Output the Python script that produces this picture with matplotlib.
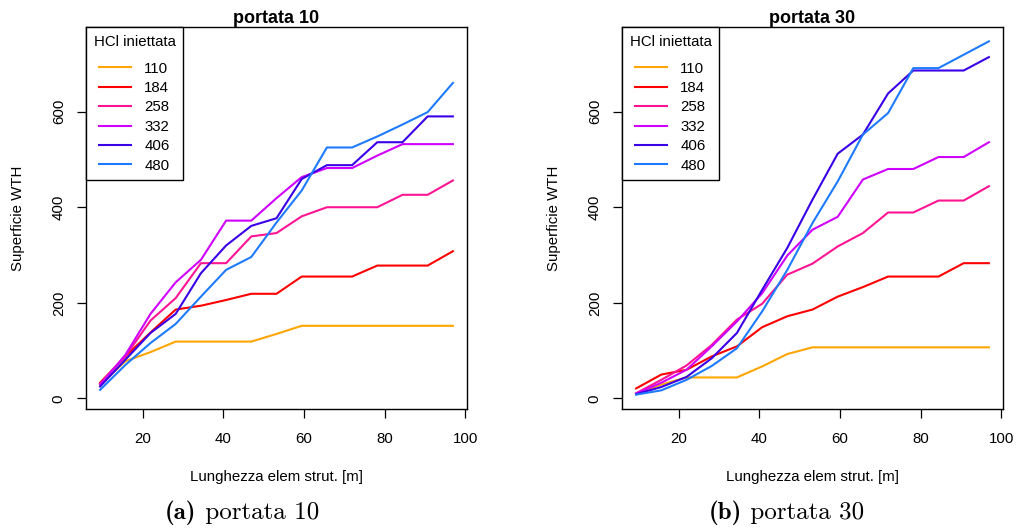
import numpy as np
import matplotlib
matplotlib.use('Agg')
import matplotlib.pyplot as plt

# lunghezza elem strut. [m], same 15 points for both panels
lunghezza = [9.4 + 6.25 * i for i in range(15)]

hcl_labels = ['110', '184', '258', '332', '406', '480']
colors = ['#FFA500', '#FF0000', '#FF1493', '#D000FF', '#3A00E8', '#1E7BFF']

# portata 10
p10_110 = [28, 78, 97, 119, 119, 119, 119, 135, 152, 152, 152, 152, 152, 152, 152]
p10_184 = [33, 88, 138, 186, 194, 206, 219, 219, 255, 255, 255, 278, 278, 278, 308]
p10_258 = [31, 88, 163, 210, 283, 283, 339, 346, 381, 400, 400, 400, 426, 426, 456]
p10_332 = [29, 91, 177, 243, 290, 372, 372, 419, 463, 482, 482, 508, 532, 532, 532]
p10_406 = [25, 81, 137, 177, 262, 320, 361, 377, 459, 488, 488, 536, 536, 590, 590]
p10_480 = [18, 70, 116, 156, 213, 269, 296, 368, 435, 525, 525, 548, 573, 599, 660]

# portata 30
p30_110 = [9, 29, 44, 44, 44, 67, 93, 107, 107, 107, 107, 107, 107, 107, 107]
p30_184 = [21, 50, 60, 88, 109, 149, 172, 186, 213, 233, 255, 255, 255, 283, 283]
p30_258 = [11, 39, 69, 112, 165, 198, 259, 282, 318, 346, 389, 389, 414, 414, 444]
p30_332 = [10, 33, 60, 109, 161, 220, 299, 353, 380, 458, 480, 480, 505, 505, 536]
p30_406 = [9, 24, 45, 84, 137, 227, 315, 416, 512, 552, 638, 686, 686, 686, 714]
p30_480 = [8, 17, 39, 68, 105, 182, 269, 367, 454, 552, 597, 691, 691, 719, 747]

panels = [
    ('portata 10', [p10_110, p10_184, p10_258, p10_332, p10_406, p10_480]),
    ('portata 30', [p30_110, p30_184, p30_258, p30_332, p30_406, p30_480]),
]
captions = [('(a)', 'portata 10'), ('(b)', 'portata 30')]

plt.rcParams['font.family'] = ['Liberation Sans', 'DejaVu Sans']
plt.rcParams['font.size'] = 10.8

W, H = 1019, 529
fig = plt.figure(figsize=(W / 100, H / 100), dpi=100)
renderer = fig.canvas.get_renderer()

ax_left_px = [86, 622]
ax_w, ax_top, ax_bot = 381, 27, 409
cap_x = [242, 786]

for k, (title, series) in enumerate(panels):
    ax = fig.add_axes([ax_left_px[k] / W, (H - ax_bot) / H, ax_w / W, (ax_bot - ax_top) / H])
    for vals, c, lab in zip(series, colors, hcl_labels):
        ax.plot(lunghezza, vals, color=c, lw=1.5, label=lab)
    ax.set_xlim(5.9, 100.4)
    ax.set_ylim(-22, 777)
    ax.set_xticks([20, 40, 60, 80, 100])
    ax.set_yticks([0, 200, 400, 600])
    ax.tick_params(direction='out', length=6.5, width=0.9, pad=10, labelsize=10.8)
    ax.tick_params(axis='y', pad=8)
    for lbl in ax.get_yticklabels():
        lbl.set_rotation(90)
        lbl.set_va('center')
    for s in ax.spines.values():
        s.set_linewidth(1.0)
    ax.set_title(title, fontsize=13, fontweight='bold', pad=2)
    ax.set_xlabel('Lunghezza elem strut. [m]', va='center')
    ax.xaxis.set_label_coords(0.5, (ax_bot - 477) / (ax_bot - ax_top))
    ax.set_ylabel('Superficie WTH', va='center')
    ax.yaxis.set_label_coords((18 - 86) / ax_w, 0.5)
    leg = ax.legend(title='HCl iniettata', loc='upper left', borderaxespad=0,
                    fancybox=False, edgecolor='black', framealpha=1,
                    handlelength=2.1, handletextpad=0.9, labelspacing=0.36,
                    borderpad=0.5, fontsize=10.8, title_fontsize=10.8)
    leg.get_frame().set_linewidth(1.0)
    leg._legend_box.sep = 9.5

    # caption below each panel: bold "(a)" + roman text
    bold, rest = captions[k]
    y = 1 - 513 / H
    t1 = fig.text(0, y, bold, ha='left', va='center', fontsize=18, family='cmb10')
    t2 = fig.text(0, y, ' ' + rest, ha='left', va='center', fontsize=18, family='cmr10')
    w1 = t1.get_window_extent(renderer).width
    w2 = t2.get_window_extent(renderer).width
    x0 = cap_x[k] - (w1 + w2) / 2
    t1.set_x(x0 / W)
    t2.set_x((x0 + w1) / W)

fig.savefig('out.png', dpi=100)
